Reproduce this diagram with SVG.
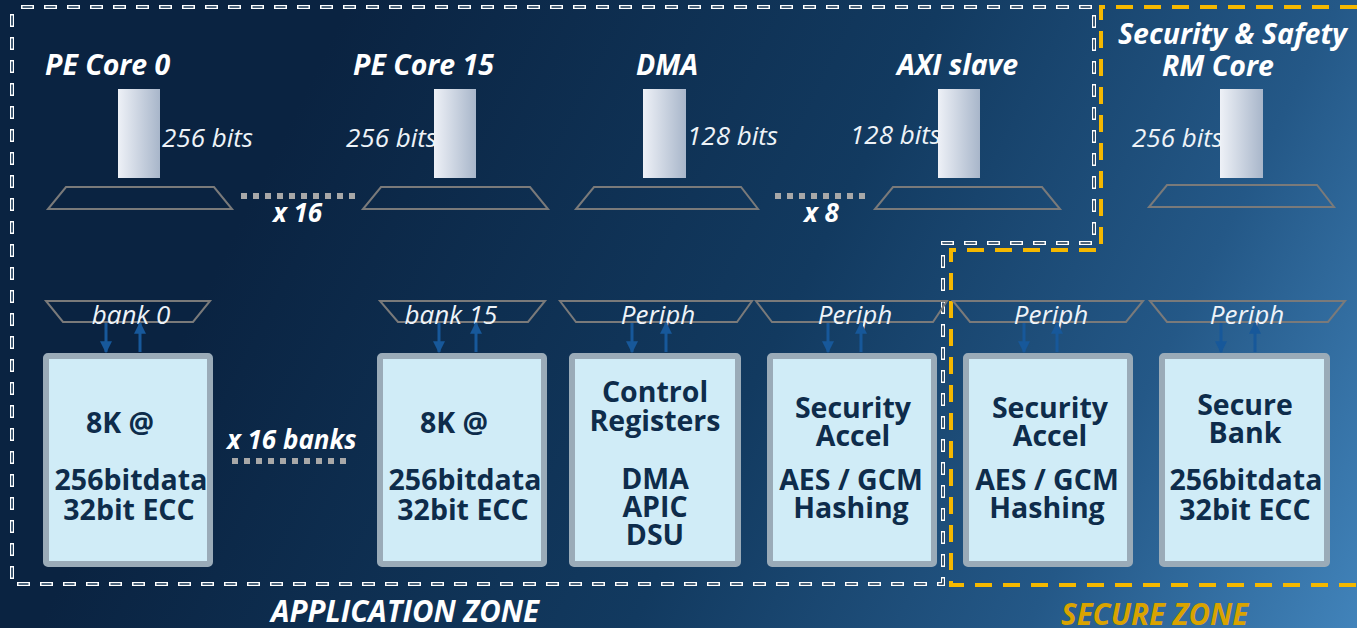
<svg xmlns="http://www.w3.org/2000/svg" width="1357" height="628" viewBox="0 0 1357 628">
  <defs>
    <linearGradient id="bg" gradientUnits="userSpaceOnUse" x1="300" y1="100" x2="1357" y2="628">
      <stop offset="0" stop-color="#0a2341"/>
      <stop offset="0.45" stop-color="#123a60"/>
      <stop offset="0.75" stop-color="#245887"/>
      <stop offset="1" stop-color="#4183ba"/>
    </linearGradient>
    <linearGradient id="bar" x1="0" y1="0" x2="1" y2="0">
      <stop offset="0" stop-color="#eef1f7"/>
      <stop offset="1" stop-color="#a8b6ca"/>
    </linearGradient>
    <marker id="ah" viewBox="0 0 10 10" refX="9" refY="5" markerWidth="4" markerHeight="5.8" markerUnits="strokeWidth" orient="auto">
      <path d="M0,0 L10,5 L0,10 z" fill="#17589a"/>
    </marker>
    <style>
      .lbl { font-family: "Open Sans", "Liberation Sans", sans-serif; font-weight: 700; font-style: italic; fill: #ffffff; font-size: 28.5px; }
      .bits { font-family: "Open Sans", "Liberation Sans", sans-serif; font-style: italic; fill: #eef3f8; font-size: 26px; }
      .mux { font-family: "Open Sans", "Liberation Sans", sans-serif; font-style: italic; fill: #eef3f8; font-size: 26px; text-anchor: middle; }
      .cnt { font-family: "Open Sans", "Liberation Sans", sans-serif; font-weight: 700; font-style: italic; fill: #ffffff; font-size: 26px; }
      .box { fill: #d0ecf7; stroke: #9aabb8; stroke-width: 6; }
      .boxt { font-family: "Open Sans", "Liberation Sans", sans-serif; font-weight: 700; fill: #0e2c4b; font-size: 28.5px; text-anchor: middle; }
      .bar { fill: url(#bar); }
      .trap { fill: none; stroke: #7a7a7a; stroke-width: 2; }
      .arr { stroke: #17589a; stroke-width: 3; fill: none; marker-end: url(#ah); }
      .dots { stroke: #a8a8a8; stroke-width: 6; stroke-dasharray: 6 6; fill: none; }
      .zoneA { fill: none; stroke: #ffffff; stroke-width: 4; stroke-dasharray: 13 10; }
      .zoneAin { fill: none; stroke: #10304f; stroke-width: 1.6; stroke-dasharray: 10 13; stroke-dashoffset: -1.5; }
      .zoneS { fill: none; stroke: #f5b800; stroke-width: 4; stroke-dasharray: 17 11; }
      .zlbl { font-family: "Open Sans", "Liberation Sans", sans-serif; font-weight: 700; font-style: italic; font-size: 29.5px; }
    </style>
  </defs>

  <rect x="0" y="0" width="1357" height="628" fill="url(#bg)"/>

  <!-- zone outlines -->
  <g id="zones">
    <path class="zoneS" d="M1357,7 H1101 V250 H951 V585 H1357"/>
    <path class="zoneA" d="M12,14 V584 H943 V243 H1094 V7 H20"/>
    <path class="zoneAin" d="M12,14 V584 H943 V243 H1094 V7 H20"/>
  </g>

  <!-- initiators -->
  <g id="pe0">
    <text class="lbl" x="45" y="75">PE Core 0</text>
    <rect class="bar" x="118" y="89" width="42" height="89"/>
    <text class="bits" x="162" y="147">256 bits</text>
    <path class="trap" d="M66,187 H214 L232,209 H48 Z"/>
  </g>
  <g id="pe15">
    <text class="lbl" x="353" y="75">PE Core 15</text>
    <rect class="bar" x="434" y="89" width="42" height="89"/>
    <text class="bits" x="346" y="147">256 bits</text>
    <path class="trap" d="M381,187 H530 L548,209 H363 Z"/>
  </g>
  <g id="dma">
    <text class="lbl" x="636" y="75">DMA</text>
    <rect class="bar" x="643" y="89" width="43" height="89"/>
    <text class="bits" x="687" y="145">128 bits</text>
    <path class="trap" d="M594,187 H741 L758,209 H576 Z"/>
  </g>
  <g id="axi">
    <text class="lbl" x="897" y="75">AXI slave</text>
    <rect class="bar" x="938" y="89" width="42" height="89"/>
    <text class="bits" x="850" y="144">128 bits</text>
    <path class="trap" d="M893,187 H1042 L1060,209 H875 Z"/>
  </g>
  <g id="rm">
    <text class="lbl" x="1118" y="44">Security &amp; Safety</text>
    <text class="lbl" x="1162" y="76">RM Core</text>
    <rect class="bar" x="1220" y="89" width="43" height="89"/>
    <text class="bits" x="1132" y="147">256 bits</text>
    <path class="trap" d="M1167,185 H1317 L1334,207 H1149 Z"/>
  </g>

  <!-- targets -->
  <g id="bank0">
    <path class="trap" d="M46,301 H210 L193,322 H63 Z"/>
    <text class="mux" x="131" y="324">bank 0</text>
    <rect class="box" x="46" y="356" width="164" height="208" rx="2"/>
    <text class="boxt" x="120" y="433">8K @</text>
    <text class="boxt" x="131" y="490">256bitdata</text>
    <text class="boxt" x="129" y="520">32bit ECC</text>
  </g>
  <g id="bank15">
    <path class="trap" d="M380,301 H545 L528,322 H398 Z"/>
    <text class="mux" x="451" y="324">bank 15</text>
    <rect class="box" x="380" y="356" width="164" height="208" rx="2"/>
    <text class="boxt" x="454" y="433">8K @</text>
    <text class="boxt" x="465" y="490">256bitdata</text>
    <text class="boxt" x="463" y="520">32bit ECC</text>
  </g>
  <g id="ctrl">
    <path class="trap" d="M560,301 H752 L737,322 H576 Z"/>
    <text class="mux" x="658" y="324">Periph</text>
    <rect class="box" x="572" y="356" width="166" height="208" rx="2"/>
    <text class="boxt" x="655" y="402">Control</text>
    <text class="boxt" x="655" y="431">Registers</text>
    <text class="boxt" x="655" y="489">DMA</text>
    <text class="boxt" x="655" y="517">APIC</text>
    <text class="boxt" x="655" y="545">DSU</text>
  </g>
  <g id="sec1">
    <path class="trap" d="M756,301 H947 L933,322 H772 Z"/>
    <text class="mux" x="855" y="324">Periph</text>
    <rect class="box" x="770" y="356" width="164" height="208" rx="2"/>
    <text class="boxt" x="853" y="418">Security</text>
    <text class="boxt" x="853" y="446">Accel</text>
    <text class="boxt" x="851" y="490">AES / GCM</text>
    <text class="boxt" x="851" y="518">Hashing</text>
  </g>
  <g id="sec2">
    <path class="trap" d="M953,301 H1143 L1126,322 H970 Z"/>
    <text class="mux" x="1051" y="324">Periph</text>
    <rect class="box" x="966" y="356" width="164" height="208" rx="2"/>
    <text class="boxt" x="1050" y="418">Security</text>
    <text class="boxt" x="1050" y="446">Accel</text>
    <text class="boxt" x="1047" y="490">AES / GCM</text>
    <text class="boxt" x="1047" y="518">Hashing</text>
  </g>
  <g id="secbank">
    <path class="trap" d="M1150,301 H1345 L1328,322 H1167 Z"/>
    <text class="mux" x="1247" y="324">Periph</text>
    <rect class="box" x="1162" y="356" width="165" height="208" rx="2"/>
    <text class="boxt" x="1245" y="415">Secure</text>
    <text class="boxt" x="1245" y="443">Bank</text>
    <text class="boxt" x="1246" y="490">256bitdata</text>
    <text class="boxt" x="1245" y="520">32bit ECC</text>
  </g>

  <!-- connectors -->
  <g id="connectors">
    <path class="arr" d="M106,323 V352"/>
    <path class="arr" d="M140,352 V323"/>
    <path class="arr" d="M439,323 V352"/>
    <path class="arr" d="M476,352 V323"/>
    <path class="arr" d="M632,323 V352"/>
    <path class="arr" d="M666,352 V323"/>
    <path class="arr" d="M828,323 V352"/>
    <path class="arr" d="M861,352 V323"/>
    <path class="arr" d="M1024,323 V352"/>
    <path class="arr" d="M1057,352 V323"/>
    <path class="arr" d="M1221,323 V352"/>
    <path class="arr" d="M1255,352 V323"/>
    <path class="dots" d="M241,196 H356"/>
    <path class="dots" d="M775,196 H868"/>
    <path class="dots" d="M232,461 H346"/>
  </g>

  <!-- repeat counts -->
  <g id="counts">
    <text class="cnt" x="273" y="222">x 16</text>
    <text class="cnt" x="804" y="222">x 8</text>
    <text class="cnt" x="227" y="449">x 16 banks</text>
  </g>

  <!-- zone names -->
  <g id="zone-labels">
    <text class="zlbl" x="271" y="622" fill="#ffffff">APPLICATION ZONE</text>
    <text class="zlbl" x="1061" y="625" fill="#d9a300">SECURE ZONE</text>
  </g>
</svg>
